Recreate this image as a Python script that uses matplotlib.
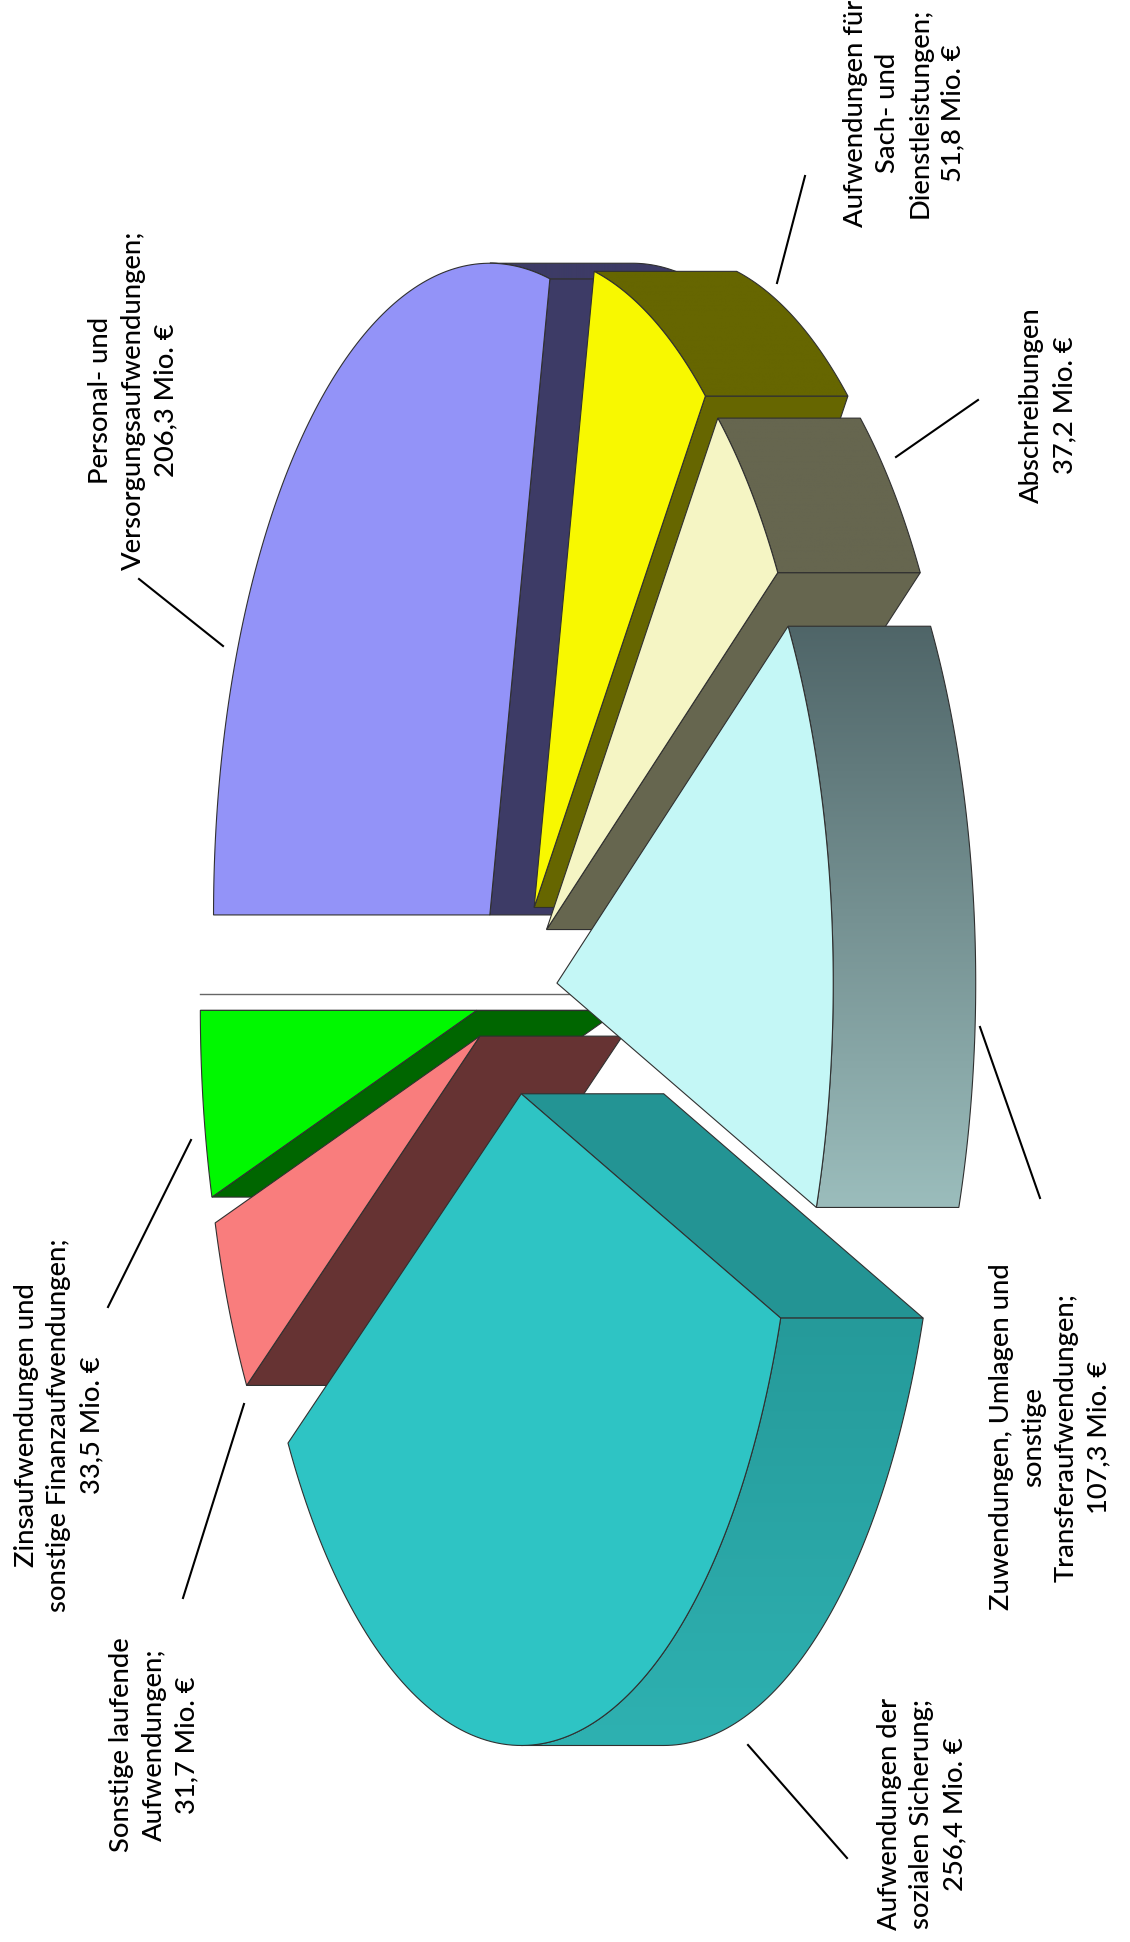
import numpy as np
import matplotlib
matplotlib.use('Agg')
import matplotlib.pyplot as plt
from matplotlib.colors import LinearSegmentedColormap
from matplotlib.patches import Polygon

plt.rcParams['font.family'] = ['Lato', 'DejaVu Sans']

# Daten (Mio. Euro), im Uhrzeigersinn ab Startwinkel
names = ['Personal- und\nVersorgungsaufwendungen;',
         'Aufwendungen für\nSach- und\nDienstleistungen;',
         'Abschreibungen',
         'Zuwendungen, Umlagen und\nsonstige\nTransferaufwendungen;',
         'Aufwendungen der\nsozialen Sicherung;',
         'Sonstige laufende\nAufwendungen;',
         'Zinsaufwendungen und\nsonstige Finanzaufwendungen;',
         '']
values = [206.3, 51.8, 37.2, 107.3, 256.4, 31.7, 33.5, 0.0]
explode = [0.1555, 0.147, 0.1465, 0.1465, 0.154, 0.1465, 0.1465, 0.1465]
shift_y = [0, 0, 0, 0, 0, 2.5, 2.5, 0.5]

top_colors = ['#9393f8', '#f8f800', '#f5f5c4', '#c4f7f6', '#2ec4c4', '#f97d7d', '#00f800', '#ffffff']
side_colors = ['#3d3b66', '#666600', '#66664f', '#4f6568', '#239494', '#663333', '#006600', '#666666']
outer_top = ['#3d3b66', '#666600', '#66664f', '#4f6568', '#259a9a', '#663333', '#006600', '#666666']
outer_bottom = ['#3d3b66', '#666600', '#66664f', '#9bbdbc', '#2eb1b1', '#663333', '#006600', '#666666']

# Geometrie der Projektion in Pixeln
cx, cy = 516.7, 994.0
rx, ry = 276.3, 651.7
depth = 142.5
edge = '#303030'

# Beschriftungen und Hinweislinien
label_pos = [(133, 400), (904, 113), (1048, 405), (1050, 1437), (922, 1814), (154, 1745), (59, 1425)]
leaders = [((139, 579), (223, 646)), ((805, 176), (777, 283)), ((978, 400), (896, 457)),
           ((980, 1027), (1040, 1198)), ((748, 1745), (847, 1858)), ((244, 1404), (183, 1598)),
           ((191, 1140), (108, 1307))]

fig = plt.figure(figsize=(11.3, 19.42), dpi=100)
ax = fig.add_axes([0, 0, 1, 1])
ax.axis('off')

total = sum(values)
order = 10


def point(t, ox, oy):
    return ox - rx * np.cos(t), oy - ry * np.sin(t)


def add_face(pts, color):
    global order
    order += 1
    ax.add_patch(Polygon(pts, closed=True, facecolor=color, edgecolor=edge, linewidth=0.8, zorder=order))


def add_gradient_face(pts, c_top, c_bottom):
    global order
    order += 1
    pts = np.array(pts)
    cmap = LinearSegmentedColormap.from_list('side', [c_top, c_bottom])
    grad = np.linspace(0, 1, 256).reshape(-1, 1)
    im = ax.imshow(grad, cmap=cmap, aspect='auto', zorder=order,
                   extent=(pts[:, 0].min(), pts[:, 0].max(), pts[:, 1].max(), pts[:, 1].min()))
    clip = Polygon(pts, closed=True, transform=ax.transData, facecolor='none', edgecolor=edge,
                   linewidth=0.8, zorder=order + 0.5)
    ax.add_patch(clip)
    im.set_clip_path(clip)


# Winkel je Segment, von hinten nach vorne zeichnen
ends = np.cumsum(values) / total * 2 * np.pi
starts = ends - np.array(values) / total * 2 * np.pi
mids = (starts + ends) / 2

for i in np.argsort(-np.cos(mids)):
    t1, t2, tm = starts[i], ends[i], mids[i]
    ox = cx - explode[i] * rx * np.cos(tm)
    oy = cy - explode[i] * ry * np.sin(tm) + shift_y[i]

    if values[i] == 0:
        # Segment ohne Wert bleibt als duenne Linie sichtbar
        px, py = point(t2, ox, oy)
        order += 1
        ax.plot([px, ox + depth], [py, oy], color=side_colors[i], lw=1.0, zorder=order)
        continue

    # Seitenflaechen, die zur Tiefe hin zeigen
    for t in (t1, t2):
        px, py = point(t, ox, oy)
        ix, iy = point(tm, ox, oy)
        nx, ny = py - oy, -(px - ox)
        if nx * (ix - ox) + ny * (iy - oy) > 0:
            nx = -nx
        if nx > 0:
            add_face([(ox, oy), (px, py), (px + depth, py), (ox + depth, oy)], side_colors[i])

    # Mantelflaeche
    a, b = max(t1, np.pi / 2), min(t2, 3 * np.pi / 2)
    if b > a:
        ts = np.linspace(a, b, 80)
        xs, ys = point(ts, ox, oy)
        pts = list(zip(xs, ys)) + list(zip(xs[::-1] + depth, ys[::-1]))
        add_gradient_face(pts, outer_top[i], outer_bottom[i])

    # Deckflaeche
    ts = np.linspace(t1, t2, 120)
    xs, ys = point(ts, ox, oy)
    add_face([(ox, oy)] + list(zip(xs, ys)), top_colors[i])

for name, val, pos, line in zip(names, values, label_pos, leaders):
    text = name + '\n' + f'{val:.1f}'.replace('.', ',') + ' Mio. €'
    ax.text(pos[0], pos[1], text, rotation=90, ha='center', va='center', multialignment='center',
            fontsize=19.7, fontweight='medium', linespacing=1.38, color='black', zorder=500)
    ax.plot([line[0][0], line[1][0]], [line[0][1], line[1][1]], color='black', lw=1.5, zorder=500)

ax.set_xlim(0, 1130)
ax.set_ylim(1942, 0)
fig.savefig('out.png', dpi=100, facecolor='white')
